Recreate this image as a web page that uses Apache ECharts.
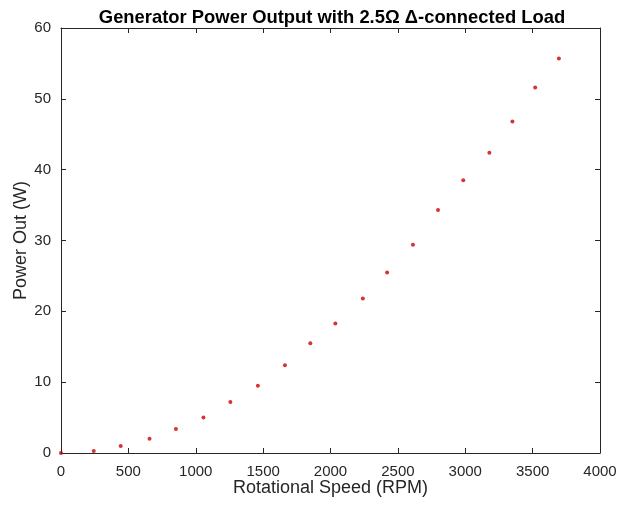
<!DOCTYPE html>
<html>
<head>
<meta charset="utf-8">
<script src="https://cdn.jsdelivr.net/npm/echarts@6/dist/echarts.min.js"></script>
<style>
  html, body { margin: 0; padding: 0; background: #fff; }
  #main { width: 623px; height: 506px; }
</style>
</head>
<body>
<div id="main"></div>
<script>
// rotational speed (RPM) and measured power (W)
var speedRpm = [0, 243, 443, 657, 853, 1057, 1257, 1461, 1662, 1850, 2036,
    2240, 2420, 2612, 2798, 2985, 3179, 3350, 3519, 3695];
var powerW = [0, 0.3, 1.0, 2.0, 3.4, 5.0, 7.2, 9.5, 12.4, 15.5, 18.3,
    21.8, 25.5, 29.4, 34.3, 38.5, 42.4, 46.8, 51.6, 55.7];

var axisColor = '#262626';
var fontFam = 'Liberation Sans, Arial, sans-serif';

var points = speedRpm.map(function (s, i) {
    return [s, powerW[i]];
});

// box axes: ticks inside, no labels (top and right)
function boxAxis(pos, max, step) {
    return {
        type: 'value',
        position: pos,
        min: 0,
        max: max,
        interval: step,
        axisLine: { show: true, onZero: false, lineStyle: { color: axisColor, width: 1 } },
        axisTick: { show: true, inside: true, length: 5, lineStyle: { color: axisColor } },
        axisLabel: { show: false },
        splitLine: { show: false }
    };
}

var myChart = echarts.init(document.getElementById('main'));
var option = {
    backgroundColor: '#fff',
    animation: false,
    title: {
        text: 'Generator Power Output with 2.5\u03A9 \u0394-connected Load',
        left: 327,
        top: 4,
        textAlign: 'center',
        textStyle: {
            fontSize: 18.4,
            fontWeight: 'bold',
            color: '#000',
            fontFamily: fontFam
        }
    },
    grid: {
        left: 61,
        right: 23,
        top: 28,
        bottom: 53,
        outerBoundsMode: 'none'
    },
    xAxis: [
        {
            type: 'value',
            min: 0,
            max: 4000,
            interval: 500,
            name: 'Rotational Speed (RPM)',
            nameLocation: 'middle',
            nameGap: 26,
            nameMoveOverlap: false,
            nameTextStyle: { fontSize: 18, color: axisColor, fontFamily: fontFam },
            axisLine: { onZero: false, lineStyle: { color: axisColor, width: 1 } },
            axisTick: { inside: true, length: 5, lineStyle: { color: axisColor } },
            axisLabel: {
                fontSize: 15, color: axisColor, margin: 11, fontFamily: fontFam,
                formatter: function (v) { return String(v); }
            },
            splitLine: { show: false }
        },
        boxAxis('top', 4000, 500)
    ],
    yAxis: [
        {
            type: 'value',
            min: 0,
            max: 60,
            interval: 10,
            name: 'Power Out (W)',
            nameLocation: 'middle',
            nameGap: 31,
            nameMoveOverlap: false,
            nameTextStyle: { fontSize: 18, color: axisColor, fontFamily: fontFam },
            axisLine: { show: true, onZero: false, lineStyle: { color: axisColor, width: 1 } },
            axisTick: { show: true, inside: true, length: 5, lineStyle: { color: axisColor } },
            axisLabel: { fontSize: 15, color: axisColor, margin: 10, fontFamily: fontFam },
            splitLine: { show: false }
        },
        boxAxis('right', 60, 10)
    ],
    series: [
        {
            type: 'scatter',
            xAxisIndex: 0,
            yAxisIndex: 0,
            symbol: 'circle',
            symbolSize: 4,
            itemStyle: { color: '#cc0000' },
            data: points
        }
    ]
};
myChart.setOption(option);
</script>
</body>
</html>
